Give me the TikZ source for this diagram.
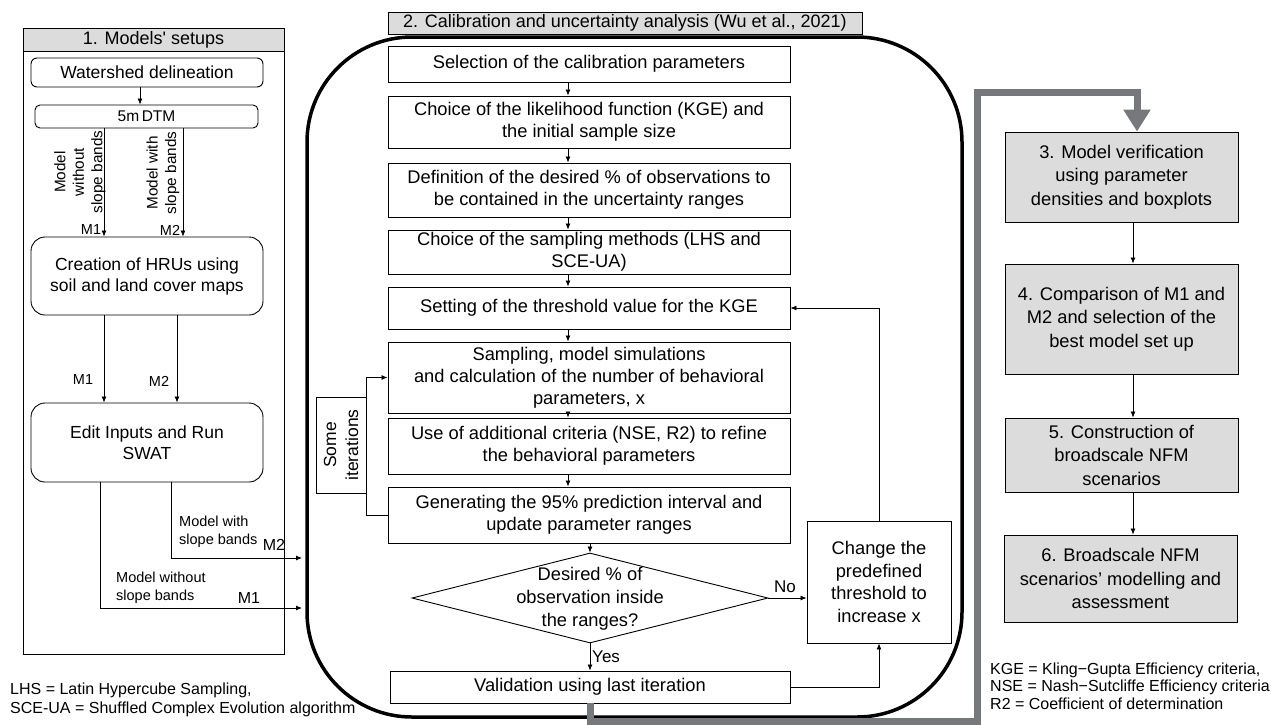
\documentclass[tikz,border=0pt]{standalone}
\usepackage{fontspec}
\setmainfont{Liberation Sans}
\usetikzlibrary{arrows.meta,shapes.geometric,calc}
\definecolor{boxgray}{HTML}{DCDCDC}
\definecolor{bargray}{HTML}{77787B}
\newcommand{\fCen}{\fontsize{18.3}{22}\selectfont}
\newcommand{\fLft}{\fontsize{17.5}{21}\selectfont}
\newcommand{\fRgt}{\fontsize{18.3}{23.5}\selectfont}
\newcommand{\fTtl}{\fontsize{18}{21}\selectfont}
\newcommand{\fLbl}{\fontsize{14.5}{18}\selectfont}
\newcommand{\fRot}{\fontsize{15.3}{18.5}\selectfont}
\newcommand{\fNte}{\fontsize{16}{18}\selectfont}
\newcommand{\fDtm}{\fontsize{15.5}{18}\selectfont}
\begin{document}
\begin{tikzpicture}[x=1pt,y=-1pt,
  arr/.style={-{Latex[length=6pt,width=5pt]}, line width=0.8pt},
  cbox/.style={draw, line width=0.9pt, inner sep=0pt, align=center, font=\fCen, minimum width=402pt},
  lbox/.style={draw, line width=0.9pt, rounded corners=14pt, inner sep=0pt, align=center, font=\fLft, minimum width=232pt},
  rbox/.style={draw, line width=0.9pt, fill=boxgray, inner sep=0pt, align=center, font=\fRgt, minimum width=233pt},
  ttl/.style={draw, line width=0.9pt, fill=boxgray, inner sep=0pt, font=\fTtl},
  lbl/.style={inner sep=0pt, font=\fLbl},
  note/.style={inner sep=0pt, font=\fNte, anchor=west}
]
\useasboundingbox (0,0) rectangle (1271,724);
% helper x positions
\coordinate (xw) at (140,0);
\coordinate (xa) at (104,0);
\coordinate (xb) at (183,0);
\coordinate (xc) at (177,0);
\coordinate (xd) at (100,0);
\coordinate (xe) at (171,0);
\coordinate (xf) at (568,0);
\coordinate (xg) at (1133,0);
\coordinate (xh) at (1137,0);

% ---------------- Panel 1 ----------------
\node[draw, line width=0.9pt, minimum width=261pt, minimum height=603pt, inner sep=0pt] (p1) at (153.5,352.5) {};
\node[ttl, minimum width=261pt, minimum height=23pt] (t1) at (153.5,39.5) {1. Models\textquotesingle\ setups};
\node[lbox, rounded corners=6pt, minimum height=29pt] (ws) at (147,72.5) {Watershed delineation};
\node[lbox, rounded corners=5pt, minimum width=223pt, minimum height=23pt, font=\fDtm] (dtm) at (146.5,116.5) {5m\,DTM};
\node[lbox, minimum height=78pt] (hru) at (147,276) {Creation of HRUs using\\soil and land cover maps};
\node[lbox, minimum height=79pt] (edit) at (147,442.5) {Edit Inputs and Run\\SWAT};

\draw[arr] (ws.south -| xw) -- (dtm.north -| xw);
\draw[arr] (dtm.south -| xa) -- (hru.north -| xa);
\draw[arr] (dtm.south -| xb) -- (hru.north -| xb);
\draw[arr] (hru.south -| xa) -- (edit.north -| xa);
\draw[arr] (hru.south -| xc) -- (edit.north -| xc);

\node[lbl, rotate=90, align=center, font=\fRot] (lbA) at (80,172) {Model\\without\\slope bands};
\node[lbl, rotate=90, align=center, font=\fRot] (lbB) at (163,173) {Model with\\slope bands};
\node[lbl] (m1a) at (91,230) {M1};
\node[lbl] (m2a) at (170,230) {M2};
\node[lbl] (m1b) at (83,380) {M1};
\node[lbl] (m2b) at (159,381) {M2};

\coordinate (m2end) at (302,558);
\coordinate (m1end) at (302,608);
\draw[arr] (edit.south -| xe) |- (m2end);
\draw[arr] (edit.south -| xd) |- (m1end);
\node[lbl, align=left, anchor=west] (lbC) at (179,532) {Model with\\slope bands};
\node[lbl, font=\fontsize{16}{18}\selectfont] (m2c) at (274,545) {M2};
\node[lbl, align=left, anchor=west] (lbD) at (116,588) {Model without\\slope bands};
\node[lbl, font=\fontsize{16}{18}\selectfont] (m1c) at (249,598) {M1};

\node[note] (fn1) at (10,690) {LHS = Latin Hypercube Sampling,};
\node[note] (fn2) at (10,709) {SCE-UA = Shuffled Complex Evolution algorithm};

% ---------------- Panel 2 ----------------
\node[draw, line width=3.5pt, rounded corners=105pt, minimum width=655pt, minimum height=680pt, inner sep=0pt] (p2) at (634.5,377) {};
\node[ttl, minimum width=474pt, minimum height=22pt] (t2) at (625,23) {2. Calibration and uncertainty analysis (Wu et al., 2021)};

\node[cbox, minimum height=36pt] (sel) at (589,64) {Selection of the calibration parameters};
\node[cbox, minimum height=52pt] (like) at (589,122) {Choice of the likelihood function (KGE) and\\the initial sample size};
\node[cbox, minimum height=54pt] (def) at (589,190) {Definition of the desired \% of observations to\\be contained in the uncertainty ranges};
\node[cbox, minimum height=44pt] (samp) at (589,252) {Choice of the sampling methods (LHS and\\SCE-UA)};
\node[cbox, minimum height=42pt] (set) at (589,308) {Setting of the threshold value for the KGE};
\node[cbox, minimum height=71pt] (simu) at (589,377.5) {Sampling, model simulations\\and calculation of the number of behavioral\\parameters, x};
\node[cbox, minimum height=56pt] (use) at (589,446) {Use of additional criteria (NSE, R2) to refine\\the behavioral parameters};
\node[cbox, minimum height=56pt] (gen) at (589,515) {Generating the 95\% prediction interval and\\update parameter ranges};
\node[diamond, draw, line width=0.9pt, minimum width=356pt, minimum height=90pt, inner sep=0pt] (dia) at (590,598) {};
\node[inner sep=0pt, align=center, font=\fontsize{18.3}{23}\selectfont] (diatxt) at (590,599) {Desired \% of\\observation inside\\the ranges?};
\node[cbox, minimum width=400pt, minimum height=32pt] (val) at (590,687) {Validation using last iteration};
\node[cbox, minimum width=144pt, minimum height=122pt, font=\fontsize{18.3}{22.5}\selectfont] (chg) at (879,582) {Change the\\predefined\\threshold to\\increase x};

\node[draw, line width=0.9pt, minimum width=50pt, minimum height=96pt, inner sep=0pt] (iter) at (341,445) {};
\node[inner sep=0pt, rotate=90, align=center, font=\fontsize{17.5}{22}\selectfont] (itertxt) at (iter.center) {Some\\iterations};

\draw[arr] (sel.south -| xf) -- (like.north -| xf);
\draw[arr] (like.south -| xf) -- (def.north -| xf);
\draw[arr] (def.south -| xf) -- (samp.north -| xf);
\draw[arr] (samp.south -| xf) -- (set.north -| xf);
\draw[arr] (set.south -| xf) -- (simu.north -| xf);
\draw[arr] (simu.south -| xf) -- (use.north -| xf);
\draw[arr] (use.south -| xf) -- (gen.north -| xf);
\draw[arr] (gen.south -| dia.north) -- (dia.north);
\draw[arr] (dia.south) -- (val.north -| dia.south);
\node[lbl, anchor=west, font=\fontsize{17}{20}\selectfont] (yes) at (592,657) {Yes};
\draw[arr] (dia.east) -- (dia.east -| chg.west);
\node[lbl, font=\fontsize{17}{20}\selectfont] (no) at (785,587) {No};
\draw[arr] (chg.north) |- (set.east);
\draw[arr] (val.east) -| (chg.south);
\draw[arr] (gen.west) -| (iter.east) |- (simu.west);

% ---------------- Right column ----------------
\node[rbox, minimum height=90pt] (b3) at (1121.5,177) {3. Model verification\\using parameter\\densities and boxplots};
\node[rbox, minimum height=110pt] (b4) at (1121.5,319) {4. Comparison of M1 and\\M2 and selection of the\\best model set up};
\node[rbox, minimum height=74pt] (b5) at (1121.5,455) {5. Construction of\\broadscale NFM\\scenarios};
\node[rbox, minimum height=87pt] (b6) at (1120.5,578.5) {6. Broadscale NFM\\scenarios’ modelling and\\assessment};
\draw[arr] (b3.south -| xg) -- (b4.north -| xg);
\draw[arr] (b4.south -| xg) -- (b5.north -| xg);
\draw[arr] (b5.south -| xg) -- (b6.north -| xg);

\coordinate (gA) at (977,721);
\coordinate (gB) at (977,92);
\draw[bargray, line width=7pt, -{Triangle[length=22pt,width=26pt]}] (val.south) |- (gA) -- (gB) -| (b3.north -| xh);

\node[note] (fn3) at (990,670) {KGE = Kling−Gupta Efficiency criteria,};
\node[note] (fn4) at (990,687) {NSE = Nash−Sutcliffe Efficiency criteria};
\node[note] (fn5) at (990,704) {R2 = Coefficient of determination};
\end{tikzpicture}
\end{document}
